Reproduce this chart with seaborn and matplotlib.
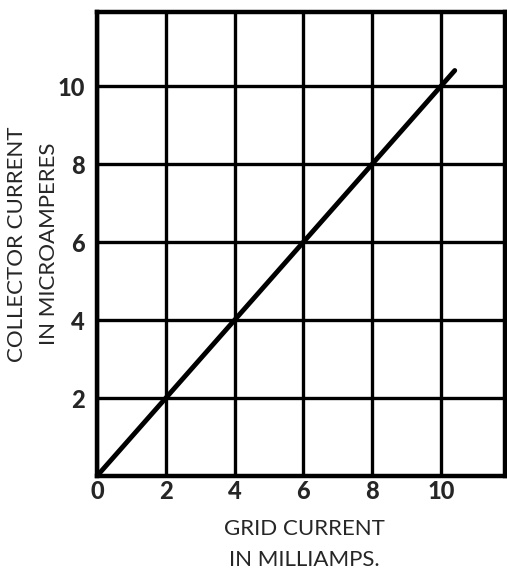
import matplotlib.pyplot as plt
import seaborn as sns

# values
grid_current = [0, 2, 4, 6, 8, 10, 10.4]        # mA
collector_current = [0, 2, 4, 6, 8, 10, 10.4]   # microamperes
x_ticks = [0, 2, 4, 6, 8, 10]
y_ticks = [2, 4, 6, 8, 10]

sns.set_style("white")
plt.rcParams["font.family"] = ["Lato", "DejaVu Sans"]

fig = plt.figure(figsize=(5.07, 5.72), dpi=100)
ax = fig.add_axes([0.1913, 0.1678, 0.8047, 0.8112])

sns.lineplot(x=grid_current, y=collector_current, ax=ax, color="black",
             linewidth=3.5, zorder=3)

ax.set_xlim(0, 11.86)
ax.set_ylim(0, 11.9)
ax.set_xticks(x_ticks)
ax.set_yticks(y_ticks)
ax.set_xticklabels([str(t) for t in x_ticks], fontsize=17, fontweight="black")
ax.set_yticklabels([str(t) for t in y_ticks], fontsize=17, fontweight="black")
ax.tick_params(axis="both", length=0)
ax.tick_params(axis="x", pad=3)
ax.tick_params(axis="y", pad=9)

ax.grid(True, color="black", linewidth=2.4)
for side in ax.spines.values():
    side.set_color("black")
    side.set_linewidth(3.2)

ax.set_xlabel("GRID CURRENT\nIN MILLIAMPS.", fontsize=16, linespacing=1.7)
ax.set_ylabel("COLLECTOR CURRENT\nIN MICROAMPERES", fontsize=16, linespacing=1.75)
ax.xaxis.label.set_va("center")
ax.yaxis.label.set_va("center")
ax.xaxis.set_label_coords(0.508, -0.148)
ax.yaxis.set_label_coords(-0.156, 0.5)

fig.savefig("out.png", dpi=100)
